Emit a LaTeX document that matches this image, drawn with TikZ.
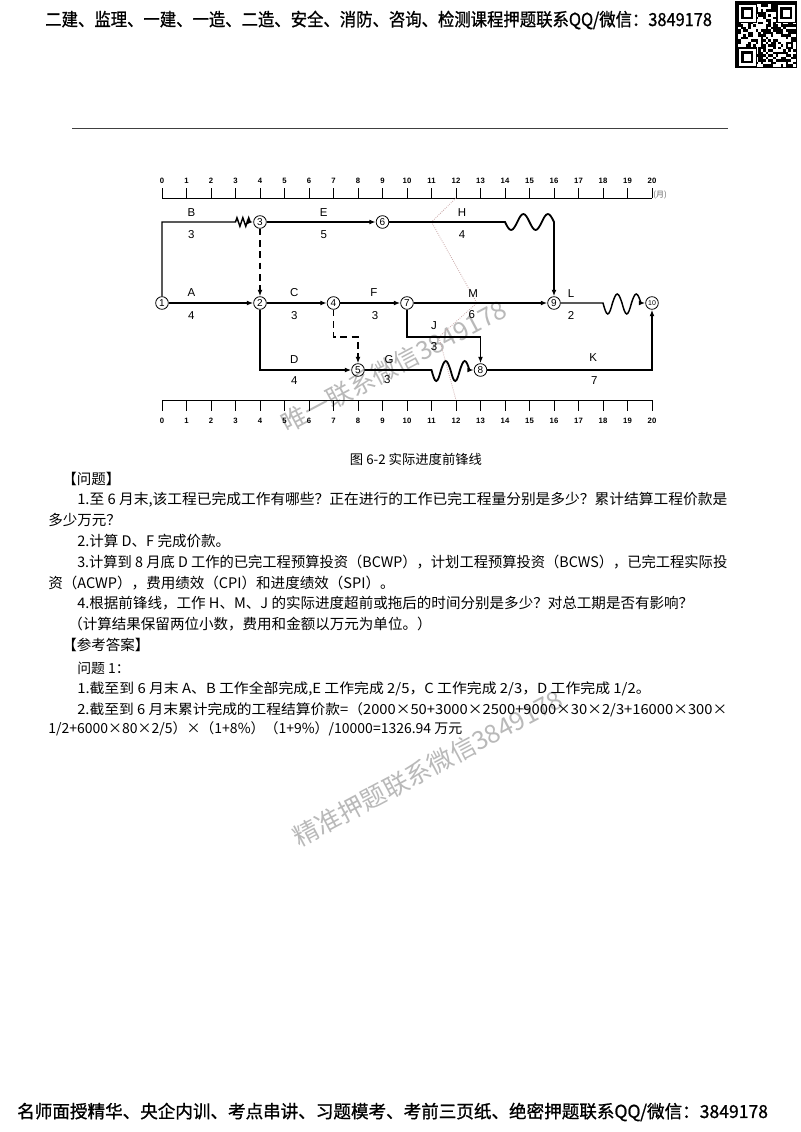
\documentclass[tikz,border=0pt]{standalone}
\usepackage{fontspec}
\usepackage{graphicx}
\setmainfont{Noto Sans CJK SC}
\newfontfamily\hdrfont[FakeBold=1]{Noto Sans CJK SC}
\newfontfamily\latfont{Liberation Sans}
\usetikzlibrary{arrows.meta,decorations.pathmorphing}
\newcommand\fitw[2]{\resizebox{#1}{\height}{#2}}
\definecolor{frontc}{RGB}{200,165,165}
\definecolor{wmc}{RGB}{185,185,185}
\begin{document}
\begin{tikzpicture}[x=0.75pt,y=-0.75pt,
  qtxt/.style={anchor=west,inner sep=0pt,font=\fontsize{10.9pt}{13pt}\selectfont},
  atxt/.style={anchor=west,inner sep=0pt,font=\fontsize{10.4pt}{12pt}\selectfont},
  ev/.style={circle,draw,line width=0.6pt,minimum size=9.5pt,inner sep=0pt,font=\latfont\fontsize{7.5pt}{7.5pt}\selectfont},
  act/.style={line width=0.85pt,-{Latex[length=4.8pt,width=3.6pt]}},
  actb/.style={act,line width=1.35pt},
  dum/.style={act,dash pattern=on 5pt off 3.5pt},
  lab/.style={inner sep=0pt,font=\latfont\fontsize{8.6pt}{9pt}\selectfont},
  snum/.style={inner sep=0pt,font=\latfont\bfseries\fontsize{5.8pt}{7pt}\selectfont},
  scl/.style={line width=0.7pt},
  front/.style={frontc,line width=0.6pt,densely dotted},
  wm/.style={wmc,inner sep=0pt,font=\fontsize{19pt}{20pt}\selectfont}
]
\useasboundingbox (0,0) rectangle (800,1132);
\fill[white] (0,0) rectangle (800,1132);

% header
\node[anchor=west,inner sep=0pt,font=\hdrfont\fontsize{13.5pt}{15pt}\selectfont] (hdr) at (45,20)
  {\fitw{500pt}{二建、监理、一建、一造、二造、安全、消防、咨询、检测课程押题联系QQ/微信：3849178}};
% QR code
\fill[black] (735,1) rectangle (797,68);
\pgfmathsetseed{12}
\foreach \i in {0,...,22}{\foreach \j in {0,...,24}{%
  \pgfmathtruncatemacro\r{rnd>0.5}%
  \ifnum\r=1 \fill[white] ({738+\i*2.5},{4+\j*2.5}) rectangle ++(2.5,2.5);\fi}}
\foreach \fx/\fy in {737/3,776/3,737/47}{
  \fill[black] (\fx,\fy) rectangle ++(20,20);
  \fill[white] ({\fx+1.5},{\fy+1.5}) rectangle ++(17,17);
  \fill[black] ({\fx+4},{\fy+4}) rectangle ++(12,12);
  \fill[white] ({\fx+6.5},{\fy+6.5}) rectangle ++(7,7);}

\draw[line width=0.6pt,black!75] (72,128) -- (728,128);

% watermarks
\node[wm,rotate=28] (wm1) at (394,366) {唯一联系微信3849178};
\node[wm,rotate=28] (wm2) at (428,768) {精准押题联系微信3849178};

\begin{scope}[x=18.375pt,xshift=121.5pt]
% scales
\draw[scl] (0,198) -- (20,198);
\draw[scl] (0,400) -- (20,400);
\foreach \m in {0,...,20}{
  \draw[scl] (\m,198) -- (\m,188);
  \node[snum] (t\m) at (\m,181) {\m};
  \draw[scl] (\m,400) -- (\m,411);
  \node[snum] (b\m) at (\m,421) {\m};}
\node[anchor=west,inner sep=0pt,text=black!60,font=\fontsize{6pt}{7pt}\selectfont] (unit) at (20.05,195) {(月)};

% front line
\coordinate (f0) at (12,198);
\coordinate (f1) at (11,222);
\coordinate (f2) at (12.85,303);
\coordinate (f3) at (11.3,337);
\coordinate (f4) at (12,400);
\draw[front] (f0) -- (f1) -- (f2) -- (f3) -- (f4);

% events
\node[ev] (n1) at (0,303) {1};
\node[ev] (n2) at (4,303) {2};
\node[ev] (n3) at (4,222) {3};
\node[ev] (n4) at (7,303) {4};
\node[ev] (n5) at (8,370) {5};
\node[ev] (n6) at (9,222) {6};
\node[ev] (n7) at (10,303) {7};
\node[ev] (n8) at (13,370) {8};
\node[ev] (n9) at (16,303) {9};
\node[ev,font=\latfont\fontsize{5.2pt}{5.2pt}\selectfont] (n10) at (20,303) {10};

\coordinate (bz) at (3,222);
\coordinate (bze) at (3.62,222);
\coordinate (hz) at (14,222);
\coordinate (gz) at (11,370);
\coordinate (lz) at (18,303);
\coordinate (jc) at (13,337);
\coordinate (dc) at (8,337);

% activities
\draw[act,line width=1.1pt] (n1) |- (bz) decorate[decoration={zigzag,segment length=4.4pt,amplitude=3.2pt}]{-- (bze)} -- (n3);
\draw[actb] (n3) -- (n6);
\draw[actb] (n6) -- (hz) sin (14.25,230) cos (14.5,222) sin (14.75,214) cos (15,222)
  sin (15.25,230) cos (15.5,222) sin (15.75,214) cos (16,222) -- (n9);
\draw[dum] (n3) -- (n2);
\draw[act] (n1) -- (n2);
\draw[act] (n2) -- (n4);
\draw[act] (n4) -- (n7);
\draw[actb] (n7) -- (n9);
\draw[act,line width=1.1pt] (n9) -- (lz) sin (18.194,314) cos (18.3875,303) sin (18.581,294) cos (18.775,303)
  sin (18.969,314) cos (19.1625,303) sin (19.356,294) cos (19.55,303) -- (n10);
\draw[act] (n7) |- (jc) -- (n8);
\draw[dum] (n4) |- (dc) -- (n5);
\draw[act] (n2) |- (n5);
\draw[actb] (n5) -- (gz) sin (11.194,381) cos (11.3875,370) sin (11.581,361) cos (11.775,370)
  sin (11.969,381) cos (12.1625,370) sin (12.356,361) cos (12.55,370) -- (n8);
\draw[act] (n8) -| (n10);

% labels
\node[lab] (lB) at (1.2,213) {B};   \node[lab] (dB) at (1.2,235) {3};
\node[lab] (lE) at (6.6,213) {E};   \node[lab] (dE) at (6.6,235) {5};
\node[lab] (lH) at (12.25,213) {H}; \node[lab] (dH) at (12.25,235) {4};
\node[lab] (lA) at (1.2,293) {A};   \node[lab] (dA) at (1.2,316) {4};
\node[lab] (lC) at (5.4,293) {C};   \node[lab] (dC) at (5.4,316) {3};
\node[lab] (lF) at (8.65,293) {F};  \node[lab] (dF) at (8.7,316) {3};
\node[lab] (lM) at (12.7,294) {M};  \node[lab] (dM) at (12.65,315) {6};
\node[lab] (lL) at (16.7,294) {L};  \node[lab] (dL) at (16.7,315) {2};
\node[lab] (lJ) at (11.1,326) {J};  \node[lab] (dJ) at (11.1,347) {3};
\node[lab] (lD) at (5.4,360) {D};   \node[lab] (dD) at (5.4,381) {4};
\node[lab] (lG) at (9.27,360) {G};  \node[lab] (dG) at (9.2,380) {3};
\node[lab] (lK) at (17.6,358) {K};  \node[lab] (dK) at (17.65,381) {7};
\end{scope}

% caption and text
\node[font=\fontsize{10pt}{12pt}\selectfont,inner sep=0pt] (cap) at (416,459) {图 6-2 实际进度前锋线};
\node[qtxt] (q0) at (62,479) {【问题】};
\node[qtxt] (q1) at (77,500) {\fitw{487.5pt}{1.至 6 月末,该工程已完成工作有哪些？正在进行的工作已完工程量分别是多少？累计结算工程价款是}};
\node[qtxt] (q1b) at (48,520) {多少万元？};
\node[qtxt] (q2) at (77,541) {2.计算 D、F 完成价款。};
\node[qtxt] (q3) at (77,562) {\fitw{487.5pt}{3.计算到 8 月底 D 工作的已完工程预算投资（BCWP），计划工程预算投资（BCWS），已完工程实际投}};
\node[qtxt] (q3b) at (48,583) {资（ACWP），费用绩效（CPI）和进度绩效（SPI）。};
\node[qtxt] (q4) at (77,603) {\fitw{462pt}{4.根据前锋线，工作 H、M、J 的实际进度超前或拖后的时间分别是多少？对总工期是否有影响？}};
\node[qtxt] (q5) at (68,624) {（计算结果保留两位小数，费用和金额以万元为单位。）};
\node[qtxt] (a0) at (62,645) {【参考答案】};
\node[atxt] (a1) at (77,668) {问题 1：};
\node[atxt] (a2) at (77,689) {\fitw{430pt}{1.截至到 6 月末 A、B 工作全部完成,E 工作完成 2/5，C 工作完成 2/3，D 工作完成 1/2。}};
\node[atxt] (a3) at (77,710) {\fitw{487.5pt}{2.截至到 6 月末累计完成的工程结算价款=（2000×50+3000×2500+9000×30×2/3+16000×300×}};
\node[atxt] (a4) at (48,729) {\fitw{310.5pt}{1/2+6000×80×2/5）×（1+8\%）（1+9\%）/10000=1326.94 万元}};

% footer
\node[anchor=west,inner sep=0pt,font=\hdrfont\fontsize{13.4pt}{15pt}\selectfont] (ftr) at (17,1112)
  {\fitw{563pt}{名师面授精华、央企内训、考点串讲、习题模考、考前三页纸、绝密押题联系QQ/微信：3849178}};
\end{tikzpicture}
\end{document}
